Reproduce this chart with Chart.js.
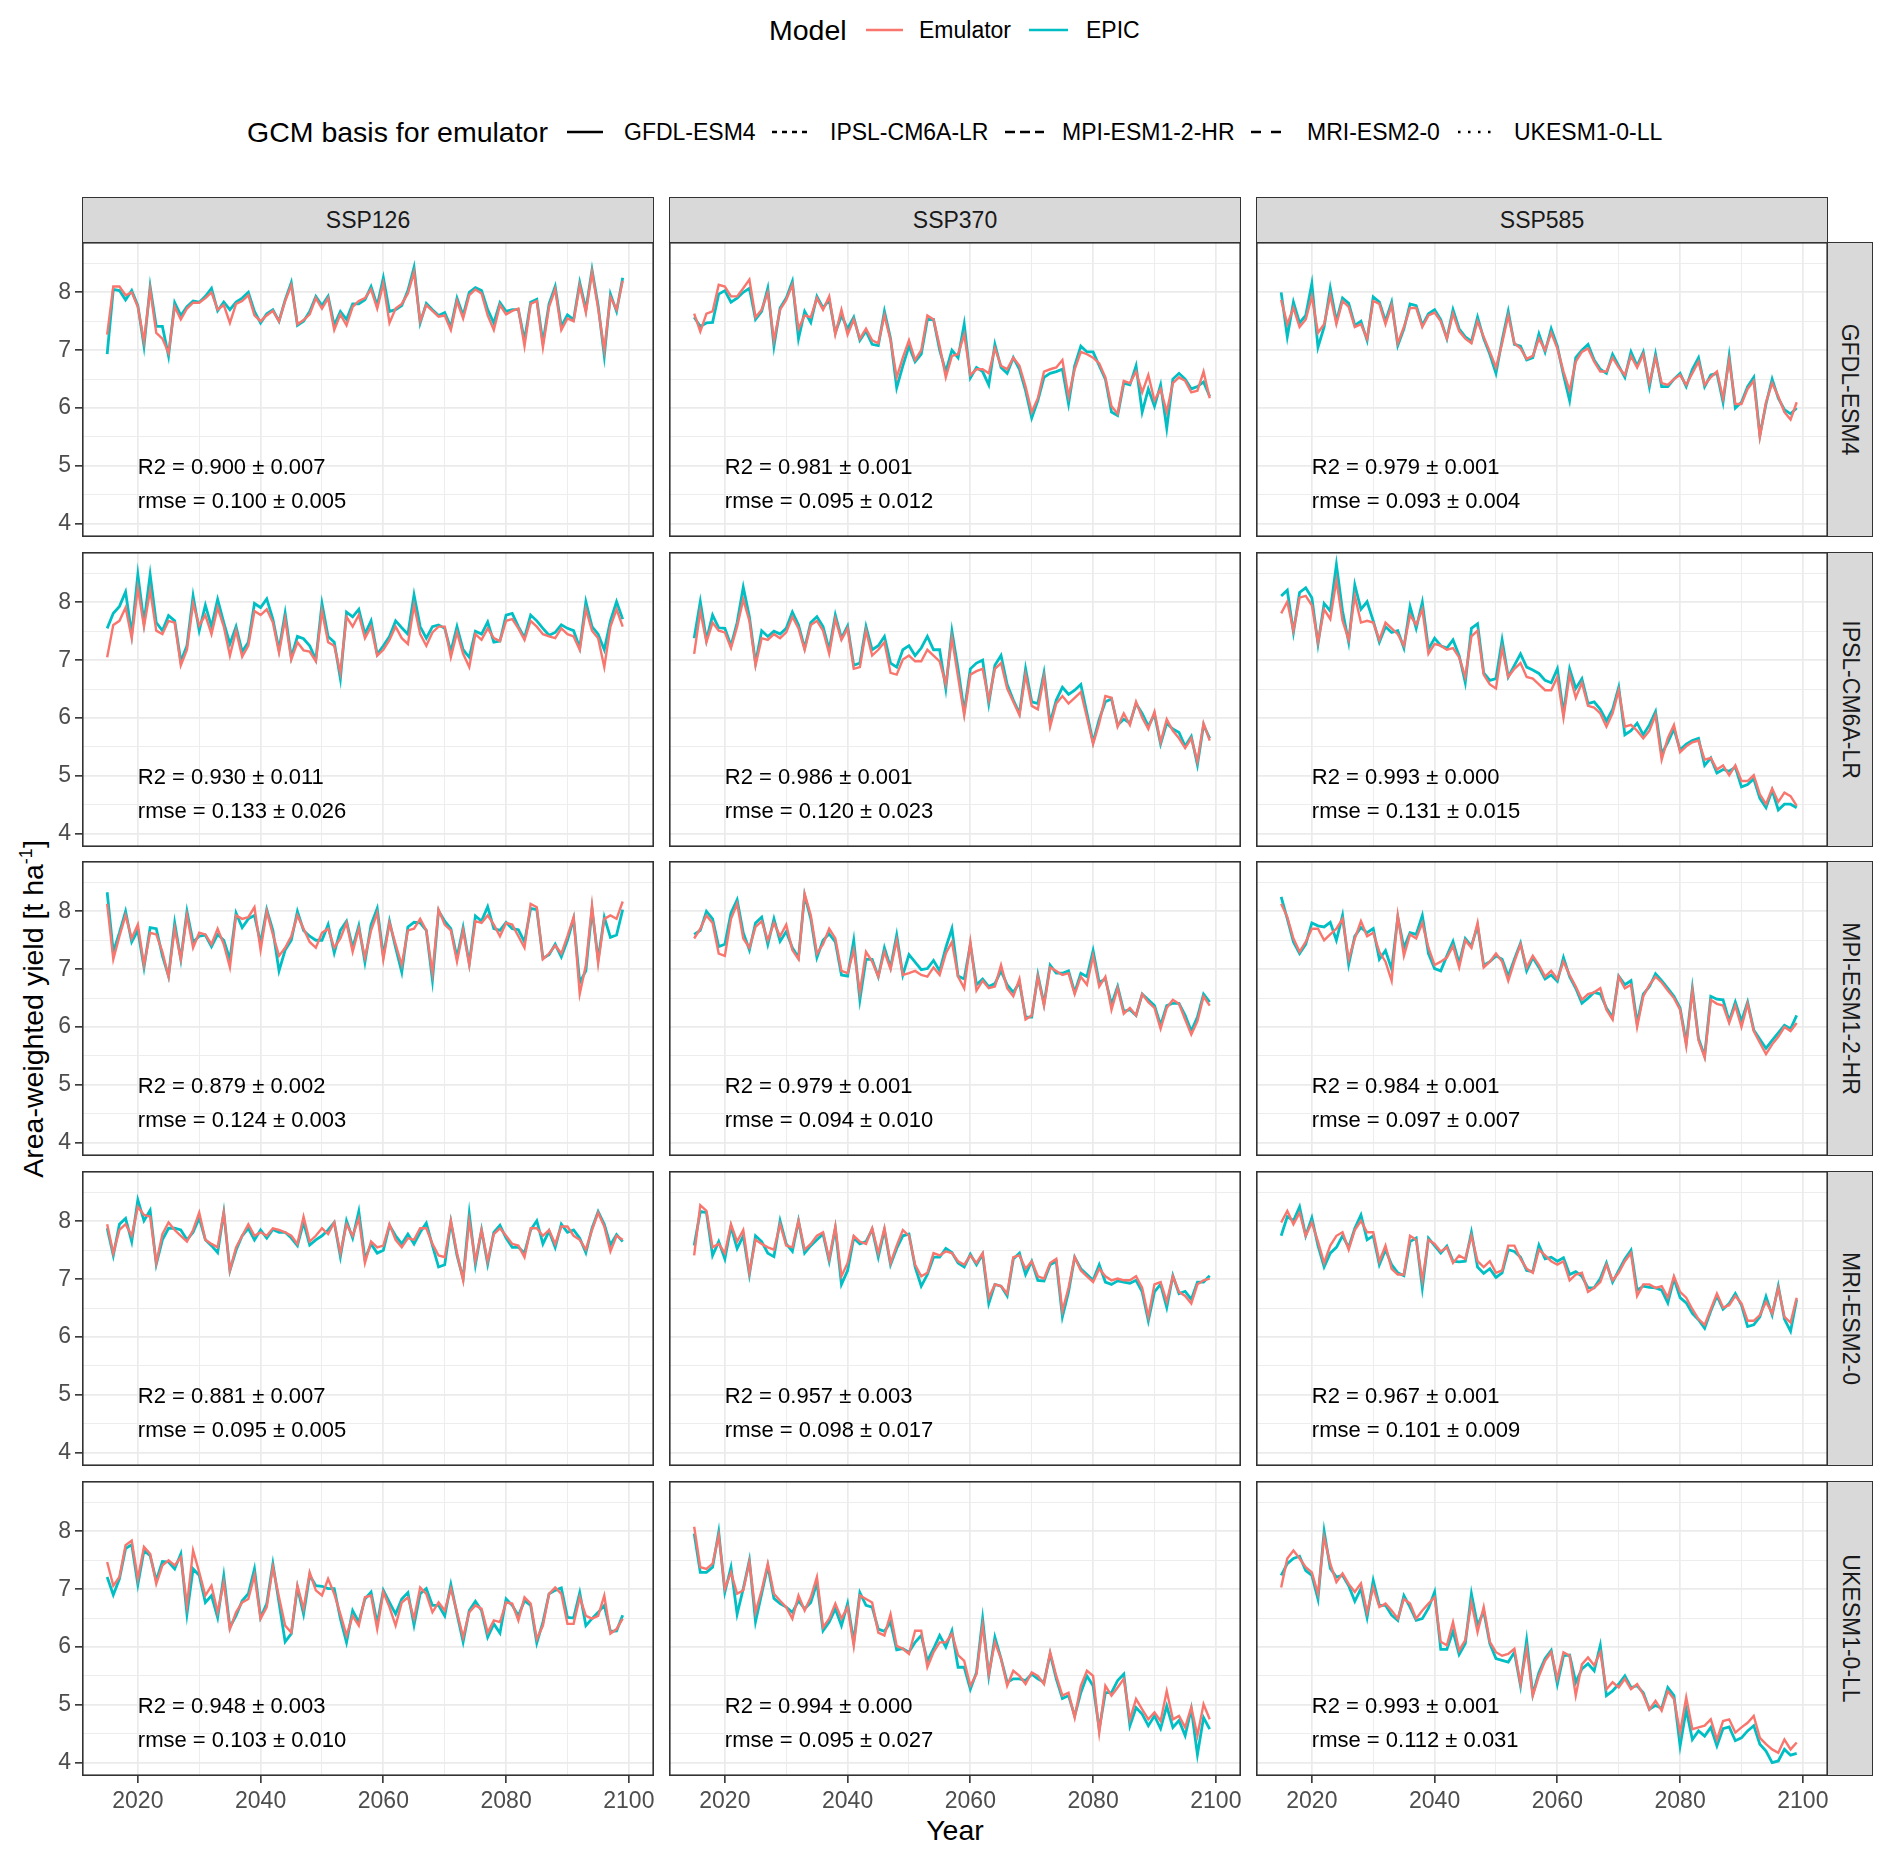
<!DOCTYPE html>
<html><head><meta charset="utf-8">
<script src="https://cdn.jsdelivr.net/npm/chart.js@4.4.0/dist/chart.umd.min.js"></script>
<style>
body{margin:0;background:#fff;width:1892px;height:1857px;position:relative;overflow:hidden;font-family:"Liberation Sans",Arial,Helvetica,sans-serif;color:#000;}
.abs{position:absolute;}
.txt{position:absolute;white-space:nowrap;transform:translateY(-50%);line-height:1;}
.strip{position:absolute;background:#d9d9d9;border:1.5px solid #333;box-sizing:border-box;color:#1a1a1a;font-size:23px;display:flex;align-items:center;justify-content:center;}
.vlab{transform:rotate(90deg);white-space:nowrap;}
</style></head><body>
<script>
// ---------------- data ----------------
const years = [2015,2016,2017,2018,2019,2020,2021,2022,2023,2024,2025,2026,2027,2028,2029,2030,2031,2032,2033,2034,2035,2036,2037,2038,2039,2040,2041,2042,2043,2044,2045,2046,2047,2048,2049,2050,2051,2052,2053,2054,2055,2056,2057,2058,2059,2060,2061,2062,2063,2064,2065,2066,2067,2068,2069,2070,2071,2072,2073,2074,2075,2076,2077,2078,2079,2080,2081,2082,2083,2084,2085,2086,2087,2088,2089,2090,2091,2092,2093,2094,2095,2096,2097,2098,2099];
const scenarios = ['SSP126','SSP370','SSP585'];
const gcms = ['GFDL-ESM4','IPSL-CM6A-LR','MPI-ESM1-2-HR','MRI-ESM2-0','UKESM1-0-LL'];
const xTickLabels = [2020,2040,2060,2080,2100];
const xGridValues = [2020,2030,2040,2050,2060,2070,2080,2090,2100];
const yTickLabels = [4,5,6,7,8];
const yGridValues = [4,4.5,5,5.5,6,6.5,7,7.5,8,8.5];

// EPIC and Emulator (GFDL-ESM4 basis) yields, t/ha
const epic_gfdl_126 = [6.93,8.05,8.03,7.87,8.03,7.77,7.07,8.1,7.41,7.41,6.9,7.82,7.6,7.75,7.85,7.83,7.93,8.07,7.68,7.83,7.7,7.83,7.9,8.0,7.67,7.47,7.63,7.7,7.5,7.87,8.17,7.43,7.5,7.67,7.93,7.77,7.93,7.43,7.67,7.53,7.8,7.8,7.87,8.1,7.77,8.25,7.67,7.7,7.77,8.03,8.43,7.47,7.81,7.7,7.6,7.65,7.4,7.9,7.6,8.0,8.08,8.03,7.7,7.47,7.82,7.67,7.7,7.7,7.17,7.83,7.88,7.13,7.8,8.1,7.41,7.61,7.53,8.17,7.7,8.39,7.77,6.9,7.97,7.67,8.25];
const emu_gfdl_126 = [7.27,8.1,8.1,7.95,8.0,7.75,7.15,8.05,7.3,7.2,6.95,7.75,7.53,7.72,7.82,7.82,7.9,8.0,7.7,7.78,7.47,7.8,7.85,7.95,7.6,7.5,7.6,7.68,7.5,7.85,8.12,7.45,7.52,7.62,7.9,7.72,7.9,7.35,7.62,7.43,7.75,7.85,7.9,8.05,7.72,8.15,7.47,7.72,7.8,7.98,8.35,7.5,7.78,7.68,7.58,7.6,7.35,7.85,7.55,7.95,8.05,7.98,7.6,7.35,7.78,7.62,7.68,7.72,7.07,7.8,7.85,7.05,7.75,8.05,7.35,7.55,7.5,8.12,7.65,8.35,7.72,7.0,7.92,7.7,8.2];
const epic_ipsl_126 = [7.55,7.81,7.93,8.18,7.45,8.48,7.65,8.48,7.65,7.51,7.77,7.68,6.98,7.25,8.11,7.51,7.95,7.58,8.05,7.65,7.28,7.58,7.15,7.31,7.98,7.91,8.06,7.71,7.18,7.81,7.05,7.41,7.37,7.25,7.01,7.98,7.41,7.31,6.68,7.83,7.75,7.88,7.45,7.68,7.1,7.25,7.41,7.68,7.56,7.45,8.13,7.58,7.38,7.58,7.61,7.55,7.15,7.58,7.18,7.05,7.5,7.45,7.66,7.31,7.33,7.78,7.81,7.58,7.39,7.78,7.68,7.55,7.43,7.48,7.61,7.55,7.51,7.21,8.01,7.58,7.45,7.18,7.68,8.01,7.71];
const emu_ipsl_126 = [7.05,7.61,7.68,7.91,7.38,8.25,7.58,8.21,7.51,7.45,7.68,7.65,6.91,7.18,7.98,7.6,7.78,7.45,7.91,7.58,7.08,7.51,7.06,7.25,7.85,7.78,7.88,7.65,7.13,7.71,7.01,7.31,7.17,7.15,6.98,7.85,7.31,7.25,6.78,7.75,7.58,7.78,7.38,7.58,7.08,7.18,7.35,7.58,7.38,7.28,7.95,7.45,7.25,7.48,7.58,7.58,7.05,7.48,7.11,6.88,7.45,7.35,7.55,7.38,7.33,7.68,7.71,7.55,7.35,7.68,7.58,7.45,7.41,7.38,7.55,7.45,7.41,7.18,7.88,7.51,7.38,6.88,7.58,7.88,7.58];
const epic_mpi_126 = [8.33,7.3,7.63,8.0,7.47,7.67,7.03,7.72,7.7,7.23,6.88,7.8,7.17,8.0,7.47,7.57,7.59,7.39,7.6,7.5,7.17,7.97,7.72,7.87,7.93,7.45,8.03,7.67,6.97,7.33,7.5,8.0,7.67,7.57,7.5,7.5,7.77,7.28,7.67,7.83,7.37,7.75,7.12,7.77,8.05,7.23,7.83,7.37,6.95,7.73,7.81,7.8,7.67,6.81,8.01,7.83,7.7,7.2,7.72,7.1,7.92,7.83,8.08,7.7,7.67,7.81,7.7,7.68,7.47,8.05,8.03,7.19,7.25,7.43,7.21,7.5,7.87,6.77,6.97,8.03,7.17,7.9,7.55,7.59,8.03];
const emu_mpi_126 = [8.13,7.17,7.57,7.93,7.53,7.77,7.07,7.63,7.6,7.3,6.87,7.7,7.17,7.93,7.37,7.63,7.6,7.43,7.7,7.43,7.03,7.93,7.87,7.9,8.07,7.33,8.0,7.6,7.23,7.37,7.57,7.93,7.7,7.47,7.37,7.63,7.7,7.37,7.53,7.8,7.3,7.7,7.2,7.67,7.97,7.17,7.8,7.43,7.07,7.67,7.7,7.87,7.67,6.93,8.03,7.77,7.67,7.13,7.67,7.07,7.83,7.8,7.93,7.77,7.57,7.8,7.77,7.57,7.37,8.13,8.07,7.17,7.27,7.41,7.27,7.57,7.9,6.57,7.07,8.1,7.1,7.87,7.93,7.87,8.17];
const epic_mri_126 = [7.88,7.41,7.95,8.05,7.65,8.37,8.01,8.19,7.26,7.68,7.88,7.88,7.85,7.68,7.81,8.06,7.68,7.58,7.46,8.15,7.15,7.5,7.75,7.88,7.68,7.85,7.71,7.86,7.81,7.81,7.71,7.58,7.98,7.59,7.68,7.75,7.85,7.98,7.39,8.01,7.71,8.17,7.35,7.61,7.45,7.5,7.93,7.75,7.61,7.78,7.61,7.81,7.97,7.58,7.21,7.25,7.99,7.41,7.01,8.13,7.25,7.85,7.26,7.81,7.93,7.71,7.55,7.55,7.45,7.85,8.01,7.61,7.83,7.55,7.95,7.81,7.85,7.71,7.46,7.88,8.17,7.95,7.59,7.77,7.65];
const emu_mri_126 = [7.95,7.45,7.85,7.95,7.75,8.25,8.11,8.08,7.28,7.78,7.98,7.85,7.75,7.65,7.85,8.15,7.68,7.61,7.55,8.15,7.15,7.55,7.75,7.95,7.75,7.81,7.75,7.88,7.85,7.81,7.75,7.61,8.08,7.65,7.75,7.88,7.78,7.98,7.45,7.95,7.75,8.05,7.28,7.65,7.55,7.58,7.95,7.68,7.55,7.71,7.68,7.88,7.88,7.61,7.41,7.38,8.01,7.45,6.98,8.01,7.31,7.85,7.31,7.78,7.88,7.75,7.61,7.58,7.38,7.88,7.88,7.75,7.85,7.61,7.91,7.91,7.75,7.68,7.51,7.85,8.15,7.91,7.48,7.75,7.68];
const epic_ukesm_126 = [7.21,6.9,7.18,7.7,7.77,7.08,7.67,7.58,7.15,7.48,7.47,7.35,7.61,6.57,7.35,7.24,6.77,6.89,6.51,7.23,6.34,6.54,6.8,6.92,7.35,6.51,6.75,7.44,6.77,6.09,6.23,7.03,6.57,7.24,7.06,7.05,7.01,7.01,6.49,6.08,6.63,6.43,6.83,6.95,6.4,6.98,6.77,6.57,6.83,6.94,6.38,6.92,7.01,6.72,6.72,6.54,7.08,6.57,6.09,6.63,6.79,6.63,6.17,6.4,6.24,6.83,6.72,6.54,6.8,6.72,6.07,6.43,6.92,6.98,7.02,6.51,6.5,6.94,6.37,6.49,6.6,6.72,6.27,6.28,6.55];
const emu_ukesm_126 = [7.47,7.06,7.21,7.76,7.84,7.18,7.73,7.61,7.09,7.41,7.5,7.41,7.55,6.72,7.67,7.29,6.89,7.06,6.6,7.12,6.31,6.6,6.77,6.83,7.24,6.49,6.69,7.38,6.86,6.37,6.25,7.06,6.66,7.29,6.98,6.89,7.18,6.92,6.57,6.2,6.54,6.37,6.86,6.89,6.31,6.95,6.69,6.37,6.77,6.86,6.49,7.03,6.92,6.6,6.77,6.63,7.01,6.6,6.17,6.6,6.72,6.66,6.25,6.46,6.43,6.77,6.75,6.46,6.86,6.75,6.14,6.37,6.92,7.03,6.92,6.4,6.4,6.86,6.54,6.49,6.54,6.89,6.23,6.31,6.49];

const epic_gfdl_370 = [7.57,7.41,7.47,7.48,7.97,8.03,7.83,7.9,8.0,8.07,7.53,7.67,8.07,7.07,7.73,7.9,8.19,7.2,7.67,7.48,7.93,7.73,7.87,7.3,7.6,7.37,7.57,7.17,7.33,7.1,7.08,7.67,7.2,6.35,6.73,7.07,6.8,6.93,7.53,7.53,7.0,6.63,7.0,6.87,7.45,6.52,6.7,6.63,6.4,7.1,6.7,6.6,6.87,6.67,6.3,5.83,6.13,6.53,6.6,6.63,6.67,6.07,6.73,7.07,6.97,6.97,6.73,6.5,5.93,5.87,6.43,6.4,6.73,5.93,6.33,6.03,6.4,5.65,6.5,6.6,6.5,6.33,6.37,6.45,6.2];
const emu_gfdl_370 = [7.63,7.32,7.63,7.67,8.13,8.1,7.93,7.93,8.07,8.22,7.57,7.7,8.0,7.17,7.7,7.87,8.13,7.37,7.6,7.57,7.9,7.7,7.93,7.27,7.7,7.27,7.53,7.2,7.37,7.17,7.12,7.6,7.17,6.53,6.87,7.17,6.83,7.0,7.6,7.53,7.07,6.53,6.9,6.93,7.27,6.57,6.67,6.67,6.6,7.03,6.73,6.67,6.87,6.73,6.37,5.93,6.17,6.63,6.67,6.7,6.83,6.2,6.67,6.97,6.93,6.87,6.77,6.53,6.03,5.9,6.47,6.43,6.63,6.27,6.57,6.13,6.33,5.93,6.43,6.53,6.47,6.27,6.3,6.63,6.17];
const epic_ipsl_370 = [7.38,8.01,7.35,7.78,7.56,7.55,7.25,7.65,8.26,7.75,6.95,7.51,7.41,7.5,7.45,7.55,7.83,7.61,7.21,7.65,7.75,7.58,7.18,7.78,7.38,7.59,6.91,6.95,7.58,7.18,7.25,7.41,6.95,6.88,7.18,7.25,7.08,7.21,7.41,7.18,7.18,6.51,7.5,6.85,6.11,6.85,6.95,7.0,6.25,6.91,7.08,6.58,6.31,6.08,6.85,6.28,6.25,6.78,5.91,6.31,6.53,6.41,6.48,6.58,6.08,5.58,5.98,6.28,6.33,5.88,5.98,5.91,6.25,6.08,5.86,6.06,5.55,5.91,5.81,5.75,5.51,5.68,5.19,5.88,5.65];
const emu_ipsl_370 = [7.11,7.85,7.31,7.65,7.51,7.48,7.21,7.58,8.05,7.68,6.91,7.38,7.35,7.45,7.38,7.48,7.75,7.55,7.18,7.61,7.68,7.51,7.11,7.71,7.35,7.55,6.85,6.88,7.51,7.08,7.18,7.31,6.78,6.75,7.01,7.08,6.98,6.98,7.18,7.08,6.98,6.58,7.38,6.71,6.05,6.75,6.81,6.85,6.31,6.85,6.95,6.51,6.28,6.05,6.75,6.21,6.15,6.71,5.85,6.25,6.38,6.25,6.35,6.45,6.01,5.55,5.91,6.38,6.35,5.85,6.08,5.88,6.28,6.01,5.81,6.11,5.58,5.98,5.78,5.65,5.48,5.65,5.25,5.91,5.61];
const epic_mpi_370 = [7.6,7.67,8.0,7.87,7.39,7.43,7.97,8.2,7.63,7.33,7.8,7.9,7.43,7.87,7.48,7.65,7.37,7.2,8.28,7.87,7.2,7.5,7.61,7.47,6.9,6.88,7.5,6.47,7.17,7.17,6.87,7.37,7.03,7.59,6.9,7.25,7.12,6.99,7.01,7.15,6.97,7.37,7.7,6.88,6.83,7.43,6.73,6.83,6.7,6.75,6.97,6.73,6.6,6.77,6.17,6.17,6.9,6.4,7.07,6.93,6.93,6.97,6.6,6.93,6.87,7.32,6.77,6.83,6.39,6.7,6.27,6.3,6.2,6.57,6.47,6.37,6.03,6.37,6.41,6.41,6.2,5.93,6.17,6.57,6.43];
const emu_mpi_370 = [7.53,7.7,7.93,7.8,7.27,7.23,7.87,8.13,7.53,7.37,7.73,7.83,7.5,7.8,7.57,7.77,7.33,7.17,8.3,7.93,7.27,7.43,7.7,7.53,6.97,6.93,7.33,6.6,7.3,7.13,6.87,7.3,7.0,7.5,6.9,6.93,6.97,6.9,6.87,7.03,6.9,7.27,7.47,6.87,6.67,7.47,6.63,6.8,6.67,6.7,7.07,6.67,6.53,6.83,6.13,6.2,6.87,6.37,7.03,6.97,6.9,6.93,6.57,6.87,6.73,7.23,6.7,6.87,6.3,6.67,6.23,6.33,6.2,6.57,6.43,6.33,5.97,6.33,6.47,6.4,6.13,5.87,6.1,6.53,6.37];
const epic_mri_370 = [7.58,8.17,8.15,7.41,7.65,7.35,7.91,7.53,7.75,7.08,7.75,7.65,7.45,7.39,8.01,7.61,7.48,8.01,7.45,7.58,7.68,7.78,7.31,7.88,6.91,7.15,7.71,7.61,7.65,7.86,7.38,7.85,7.25,7.53,7.75,7.78,7.21,6.88,7.08,7.38,7.38,7.53,7.46,7.28,7.21,7.43,7.25,7.43,6.58,6.91,6.88,6.71,7.35,7.45,7.08,7.31,6.98,6.97,7.25,7.31,6.35,6.78,7.38,7.18,7.08,6.98,7.25,6.95,6.91,6.97,6.95,6.93,6.98,6.78,6.28,6.78,6.91,6.51,7.06,6.75,6.79,6.65,6.95,6.95,7.06];
const emu_mri_370 = [7.41,8.28,8.18,7.55,7.61,7.45,7.95,7.65,7.85,7.11,7.68,7.61,7.55,7.51,7.95,7.58,7.55,8.01,7.51,7.61,7.75,7.81,7.35,7.91,7.05,7.28,7.75,7.65,7.61,7.88,7.45,7.88,7.28,7.58,7.85,7.75,7.25,7.05,7.11,7.45,7.41,7.48,7.45,7.31,7.25,7.41,7.28,7.45,6.68,6.91,6.88,6.75,7.38,7.41,7.18,7.31,7.05,7.01,7.28,7.35,6.45,6.85,7.38,7.15,7.05,6.95,7.18,7.05,6.98,7.01,6.98,6.98,7.05,6.85,6.35,6.91,6.95,6.61,7.05,6.78,6.71,6.58,6.91,6.98,7.01];
const epic_ukesm_370 = [7.96,7.29,7.29,7.38,7.99,6.95,7.38,6.57,7.01,7.5,6.44,6.92,7.4,6.84,6.75,6.69,6.6,6.8,6.66,6.77,7.11,6.28,6.43,6.66,6.37,6.75,6.09,6.94,6.72,6.69,6.31,6.27,6.43,5.95,5.97,5.91,6.08,6.2,5.76,5.97,6.2,6.0,6.28,5.65,5.65,5.27,5.56,6.49,5.5,6.17,5.8,5.39,5.45,5.45,5.42,5.53,5.45,5.39,5.88,5.45,5.11,5.16,4.81,5.21,5.5,5.33,4.58,5.21,5.21,5.42,5.53,4.64,4.95,4.84,4.64,4.81,4.59,4.98,4.61,4.73,4.47,4.93,4.14,4.78,4.58];
const emu_ukesm_370 = [8.08,7.38,7.35,7.44,7.93,7.01,7.29,6.92,6.98,7.47,6.6,6.98,7.44,6.92,6.8,6.69,6.49,6.89,6.63,6.86,7.21,6.34,6.49,6.75,6.49,6.69,6.02,6.89,6.83,6.77,6.25,6.2,6.57,6.02,5.97,5.88,6.28,6.28,5.65,5.91,6.08,6.08,6.23,5.86,5.76,5.33,5.53,6.37,5.53,6.08,5.8,5.33,5.59,5.5,5.36,5.56,5.5,5.36,5.91,5.5,5.16,5.21,4.78,5.33,5.59,5.5,4.52,5.33,5.16,5.3,5.45,4.75,5.1,4.92,4.75,4.87,4.72,5.24,4.75,4.81,4.61,4.96,4.47,5.01,4.75];

const epic_gfdl_585 = [8.0,7.23,7.83,7.47,7.6,8.15,7.05,7.4,8.07,7.5,7.9,7.81,7.43,7.5,7.17,7.92,7.83,7.5,7.83,7.08,7.37,7.8,7.77,7.43,7.63,7.7,7.53,7.2,7.7,7.37,7.23,7.15,7.57,7.2,6.93,6.6,7.17,7.67,7.1,7.07,6.83,6.87,7.28,6.97,7.37,7.07,6.57,6.13,6.87,7.0,7.1,6.83,6.67,6.6,6.93,6.73,6.53,6.97,6.73,6.97,6.37,6.93,6.37,6.37,6.5,6.6,6.37,6.67,6.87,6.37,6.57,6.6,6.1,6.9,6.0,6.1,6.37,6.53,5.53,6.07,6.5,6.17,5.97,5.9,6.0];
const emu_gfdl_585 = [7.87,7.45,7.73,7.4,7.53,7.93,7.3,7.45,7.95,7.45,7.85,7.75,7.4,7.45,7.2,7.85,7.8,7.45,7.78,7.12,7.4,7.73,7.73,7.4,7.6,7.65,7.5,7.2,7.63,7.33,7.2,7.12,7.5,7.23,6.97,6.7,7.12,7.6,7.12,7.03,6.85,6.9,7.2,7.0,7.3,7.03,6.63,6.3,6.8,6.97,7.03,6.8,6.63,6.63,6.87,6.7,6.57,6.9,6.7,6.93,6.43,6.87,6.43,6.4,6.5,6.57,6.4,6.6,6.8,6.4,6.53,6.63,6.17,6.83,6.07,6.07,6.33,6.47,5.5,6.1,6.43,6.2,5.93,5.8,6.1];
const epic_ipsl_585 = [8.11,8.21,7.48,8.17,8.25,8.08,7.28,7.98,7.85,8.65,7.85,7.31,8.3,7.88,8.01,7.68,7.31,7.58,7.48,7.51,7.21,7.93,7.55,8.0,7.19,7.38,7.25,7.21,7.35,7.08,6.61,7.55,7.63,6.78,6.65,6.68,7.35,6.71,6.91,7.11,6.88,6.83,6.77,6.65,6.61,6.85,6.08,6.85,6.51,6.68,6.25,6.28,6.15,5.95,6.15,6.53,5.71,5.78,5.91,5.71,5.88,6.11,5.38,5.58,5.81,5.45,5.55,5.61,5.65,5.18,5.31,5.05,5.11,5.08,5.15,4.81,4.85,4.95,4.61,4.45,4.75,4.41,4.51,4.51,4.45];
const emu_ipsl_585 = [7.81,8.01,7.51,8.08,8.11,7.95,7.31,7.88,7.71,8.38,7.68,7.35,8.11,7.65,7.68,7.65,7.35,7.65,7.55,7.45,7.25,7.78,7.61,7.88,7.11,7.28,7.25,7.18,7.21,7.05,6.71,7.41,7.51,6.75,6.58,6.51,7.21,6.71,6.85,6.95,6.71,6.68,6.58,6.48,6.48,6.71,6.01,6.75,6.35,6.61,6.21,6.18,6.08,5.85,6.08,6.48,5.85,5.88,5.78,5.65,5.78,6.05,5.28,5.65,5.88,5.41,5.51,5.58,5.61,5.28,5.31,5.11,5.18,5.01,5.18,4.91,4.91,5.01,4.68,4.51,4.78,4.55,4.71,4.65,4.48];
const epic_mpi_585 = [8.25,7.87,7.47,7.27,7.43,7.8,7.75,7.73,7.81,7.5,7.93,7.08,7.57,7.72,7.63,7.7,7.17,7.32,7.0,7.9,7.37,7.63,7.6,7.93,7.27,7.01,6.97,7.23,7.48,7.1,7.53,7.4,7.75,7.07,7.13,7.23,7.17,6.88,7.17,7.45,6.97,7.2,7.03,6.83,6.9,6.79,7.2,6.87,6.67,6.41,6.5,6.6,6.57,6.33,6.17,6.88,6.73,6.8,6.07,6.57,6.7,6.92,6.8,6.67,6.53,6.33,5.73,6.67,5.8,5.5,6.53,6.48,6.47,6.1,6.43,6.1,6.43,5.95,5.79,5.63,5.77,5.9,6.03,5.97,6.2];
const emu_mpi_585 = [8.13,7.9,7.53,7.3,7.47,7.7,7.7,7.5,7.6,7.7,7.87,7.17,7.53,7.83,7.57,7.63,7.3,7.13,6.8,7.93,7.23,7.6,7.53,7.8,7.37,7.07,7.13,7.2,7.4,7.03,7.5,7.37,7.8,7.03,7.13,7.27,7.13,6.8,7.13,7.43,7.03,7.23,7.07,6.87,6.97,6.83,7.13,6.9,6.7,6.47,6.57,6.6,6.67,6.3,6.13,6.87,6.67,6.73,6.0,6.53,6.73,6.87,6.77,6.63,6.5,6.3,5.67,6.63,5.77,5.47,6.47,6.4,6.37,6.07,6.37,6.0,6.4,5.93,5.73,5.53,5.7,5.83,6.0,5.93,6.07];
const epic_mri_585 = [7.75,8.08,8.01,8.25,7.75,8.06,7.58,7.21,7.45,7.55,7.75,7.55,7.88,8.11,7.68,7.75,7.25,7.51,7.25,7.11,7.06,7.65,7.71,6.85,7.71,7.58,7.45,7.57,7.31,7.3,7.31,7.81,7.21,7.1,7.18,7.03,7.11,7.51,7.48,7.38,7.15,7.13,7.59,7.35,7.38,7.31,7.37,7.08,7.13,7.05,6.85,6.85,7.01,7.28,6.95,7.15,7.35,7.5,6.81,6.88,6.86,6.85,6.81,6.59,7.01,6.68,6.59,6.41,6.3,6.15,6.45,6.71,6.48,6.58,6.75,6.55,6.18,6.21,6.35,6.7,6.38,6.88,6.31,6.1,6.65];
const emu_mri_585 = [7.98,8.18,7.95,8.15,7.75,7.98,7.65,7.28,7.58,7.75,7.81,7.51,7.85,8.01,7.81,7.81,7.31,7.58,7.18,7.08,7.08,7.75,7.68,6.98,7.68,7.61,7.48,7.55,7.28,7.41,7.35,7.75,7.31,7.21,7.31,7.11,7.15,7.58,7.58,7.35,7.18,7.11,7.51,7.41,7.31,7.25,7.31,6.98,7.08,7.11,6.78,6.85,6.95,7.25,6.98,7.11,7.31,7.45,6.71,6.91,6.91,6.85,6.88,6.68,7.05,6.78,6.68,6.48,6.31,6.21,6.48,6.75,6.51,6.55,6.71,6.58,6.28,6.28,6.38,6.61,6.41,6.85,6.35,6.25,6.68];
const epic_ukesm_585 = [7.24,7.44,7.53,7.57,7.32,7.24,6.83,8.0,7.36,7.21,7.24,7.06,6.79,7.01,6.51,7.15,6.72,6.72,6.55,6.46,6.89,6.69,6.46,6.49,6.67,6.95,5.96,5.96,6.27,5.87,6.06,6.92,6.37,6.62,6.06,5.8,5.77,5.74,5.91,5.33,6.12,5.18,5.56,5.8,5.94,5.36,5.85,5.86,5.39,5.62,5.71,5.59,6.03,5.16,5.24,5.36,5.5,5.3,5.33,5.21,4.92,4.99,4.94,5.3,5.16,4.29,4.92,4.4,4.55,4.46,4.61,4.29,4.59,4.62,4.38,4.43,4.55,4.64,4.32,4.2,4.0,4.03,4.23,4.13,4.16];
const emu_ukesm_585 = [7.03,7.53,7.67,7.53,7.38,7.29,6.92,7.9,7.44,7.12,7.27,7.09,6.95,7.1,6.6,7.03,6.69,6.75,6.63,6.49,6.83,6.75,6.49,6.63,6.75,6.86,6.09,6.03,6.43,5.94,6.12,6.77,6.26,6.69,6.09,5.91,5.85,5.88,5.97,5.36,5.97,5.16,5.5,5.76,5.91,5.45,5.91,5.85,5.16,5.7,5.82,5.68,5.91,5.27,5.39,5.3,5.45,5.27,5.36,5.18,4.92,5.07,4.9,5.24,5.1,4.52,5.13,4.58,4.61,4.64,4.75,4.4,4.72,4.75,4.52,4.61,4.69,4.81,4.43,4.32,4.23,4.17,4.4,4.23,4.35];

const r2Text = [
  ['0.900 ± 0.007','0.981 ± 0.001','0.979 ± 0.001'],
  ['0.930 ± 0.011','0.986 ± 0.001','0.993 ± 0.000'],
  ['0.879 ± 0.002','0.979 ± 0.001','0.984 ± 0.001'],
  ['0.881 ± 0.007','0.957 ± 0.003','0.967 ± 0.001'],
  ['0.948 ± 0.003','0.994 ± 0.000','0.993 ± 0.001']];
const rmseText = [
  ['0.100 ± 0.005','0.095 ± 0.012','0.093 ± 0.004'],
  ['0.133 ± 0.026','0.120 ± 0.023','0.131 ± 0.015'],
  ['0.124 ± 0.003','0.094 ± 0.010','0.097 ± 0.007'],
  ['0.095 ± 0.005','0.098 ± 0.017','0.101 ± 0.009'],
  ['0.103 ± 0.010','0.095 ± 0.027','0.112 ± 0.031']];

const epicGrid = [
  [epic_gfdl_126, epic_gfdl_370, epic_gfdl_585],
  [epic_ipsl_126, epic_ipsl_370, epic_ipsl_585],
  [epic_mpi_126, epic_mpi_370, epic_mpi_585],
  [epic_mri_126, epic_mri_370, epic_mri_585],
  [epic_ukesm_126, epic_ukesm_370, epic_ukesm_585]];
const emuGrid = [
  [emu_gfdl_126, emu_gfdl_370, emu_gfdl_585],
  [emu_ipsl_126, emu_ipsl_370, emu_ipsl_585],
  [emu_mpi_126, emu_mpi_370, emu_mpi_585],
  [emu_mri_126, emu_mri_370, emu_mri_585],
  [emu_ukesm_126, emu_ukesm_370, emu_ukesm_585]];

// ---------------- layout ----------------
const PX = [82, 669, 1256], W = 572;
const PY = [242, 552, 861, 1171, 1481], H = 295;
const XMIN = 2010.9, XMAX = 2104.1, YMIN = 3.77, YMAX = 8.87;
const FONT = '"Liberation Sans", Arial, Helvetica, sans-serif';
Chart.defaults.font.family = FONT;

function el(tag, cls, css, html){const e=document.createElement(tag); if(cls)e.className=cls; Object.assign(e.style, css||{}); if(html!==undefined)e.innerHTML=html; document.body.appendChild(e); return e;}

// legends
function keyLine(x1, x2, y, color, dash){
  const s = `<svg width="${x2-x1}" height="10" style="display:block"><line x1="0" y1="5" x2="${x2-x1}" y2="5" stroke="${color}" stroke-width="2.6" ${dash?`stroke-dasharray="${dash}"`:''}/></svg>`;
  el('div','abs',{left:x1+'px',top:(y-5)+'px'},s);
}
el('div','txt',{left:'769px',top:'30px',fontSize:'28.5px'},'Model');
keyLine(866,903,30,'#F8766D'); el('div','txt',{left:'919px',top:'30px',fontSize:'23px'},'Emulator');
keyLine(1029,1068,30,'#00BFC4'); el('div','txt',{left:'1086px',top:'30px',fontSize:'23px'},'EPIC');
el('div','txt',{left:'247px',top:'132px',fontSize:'28.5px'},'GCM basis for emulator');
const gcmKeys = [[567,603,null,624],[772,811,'5,5',830],[1005,1044,'10,5',1062],[1251,1290,'10,10',1307],[1458,1496,'2.5,7.5',1514]];
gcmKeys.forEach((k,i)=>{ keyLine(k[0],k[1],132,'#000',k[2]); el('div','txt',{left:k[3]+'px',top:'132px',fontSize:'23px'},gcms[i]); });

// strips
scenarios.forEach((s,c)=> el('div','strip',{left:PX[c]+'px',top:'197px',width:W+'px',height:'46px'},s));
gcms.forEach((g,r)=> el('div','strip',{left:(PX[2]+W-1)+'px',top:PY[r]+'px',width:'46px',height:H+'px'},`<div class="vlab">${g}</div>`));

// axis titles
el('div','abs',{left:'33px',top:'1009px',transform:'translate(-50%,-50%) rotate(-90deg)',fontSize:'28.5px',whiteSpace:'nowrap'},'Area-weighted yield [t ha<sup style="font-size:18px">-1</sup>]');
el('div','abs',{left:'955px',top:'1830px',transform:'translate(-50%,-50%)',fontSize:'28.5px'},'Year');

// panel decoration plugin: border + fit statistics text
const panelDecor = {
  id:'panelDecor',
  afterDatasetsDraw(chart, args, opts){
    const {ctx, chartArea:a, scales:{x,y}} = chart;
    ctx.save();
    ctx.font = '22px ' + FONT; ctx.fillStyle = '#000'; ctx.textBaseline = 'middle'; ctx.textAlign='left';
    ctx.fillText('R2 = ' + opts.r2, x.getPixelForValue(2020), y.getPixelForValue(4.97));
    ctx.fillText('rmse = ' + opts.rmse, x.getPixelForValue(2020), y.getPixelForValue(4.37));
    ctx.strokeStyle = '#333'; ctx.lineWidth = 1.6;
    ctx.strokeRect(a.left+0.8, a.top+0.8, a.width-1.6, a.height-1.6);
    ctx.restore();
  }
};

function makePanel(r, c){
  const left = c===0, bottom = r===4;
  const padL = left?52:0, padB = bottom?48:0, padR = bottom?24:0;
  const w = W + padL + padR, h = H + padB;
  const box = el('div','abs',{left:(PX[c]-padL)+'px',top:PY[r]+'px',width:w+'px',height:h+'px'});
  const cv = document.createElement('canvas'); cv.width=w; cv.height=h; cv.style.width=w+'px'; cv.style.height=h+'px';
  box.appendChild(cv);
  const ep = epicGrid[r][c], em = emuGrid[r][c];
  new Chart(cv, {
    type:'line',
    data:{datasets:[
      {label:'Emulator', data: years.map((yr,i)=>({x:yr, y:em[i]})), borderColor:'#F8766D', borderWidth:2.4, pointRadius:0, tension:0},
      {label:'EPIC', data: years.map((yr,i)=>({x:yr, y:ep[i]})), borderColor:'#00BFC4', borderWidth:2.8, pointRadius:0, tension:0}
    ]},
    options:{
      responsive:false, animation:false, events:[],
      layout:{padding:{left:0,top:0,bottom:0,right:padR}},
      plugins:{legend:{display:false}, tooltip:{enabled:false}, panelDecor:{r2:r2Text[r][c], rmse:rmseText[r][c]}},
      scales:{
        x:{type:'linear', min:XMIN, max:XMAX, border:{display:false},
          afterBuildTicks: s => { s.ticks = xGridValues.map(v=>({value:v})); },
          ticks:{display:bottom, autoSkip:false, maxRotation:0, minRotation:0, color:'#4d4d4d', font:{size:23}, padding:5,
            callback: v => xTickLabels.includes(v) ? String(v) : ''},
          grid:{color:'#ebebeb', lineWidth: ctx => (ctx.tick && xTickLabels.includes(ctx.tick.value)) ? 1.7 : 0.9,
            drawTicks:bottom, tickLength:7, tickWidth:1.6,
            tickColor: ctx => (ctx.tick && xTickLabels.includes(ctx.tick.value)) ? '#333333' : 'rgba(0,0,0,0)'},
          afterFit: s => { s.height = padB; s.paddingLeft=0; s.paddingRight=0; s.paddingTop=0; s.paddingBottom=0; }
        },
        y:{type:'linear', min:YMIN, max:YMAX, border:{display:false},
          afterBuildTicks: s => { s.ticks = yGridValues.map(v=>({value:v})); },
          ticks:{display:left, autoSkip:false, color:'#4d4d4d', font:{size:23}, padding:4,
            callback: v => yTickLabels.includes(v) ? String(v) : ''},
          grid:{color:'#ebebeb', lineWidth: ctx => (ctx.tick && yTickLabels.includes(ctx.tick.value)) ? 1.7 : 0.9,
            drawTicks:left, tickLength:7, tickWidth:1.6,
            tickColor: ctx => (ctx.tick && yTickLabels.includes(ctx.tick.value)) ? '#333333' : 'rgba(0,0,0,0)'},
          afterFit: s => { s.width = padL; s.paddingLeft=0; s.paddingRight=0; s.paddingTop=0; s.paddingBottom=0; }
        }
      }
    },
    plugins:[panelDecor]
  });
}
for (let r=0;r<5;r++) for (let c=0;c<3;c++) makePanel(r,c);
</script>
</body></html>
